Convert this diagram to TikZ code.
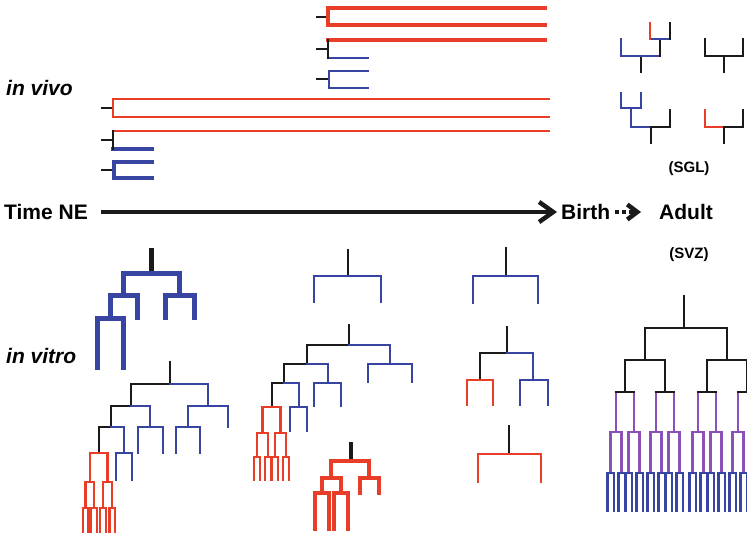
\documentclass[tikz,border=0pt]{standalone}
\usepackage{fontspec}
\setmainfont{Liberation Sans}
\usetikzlibrary{arrows.meta}

\definecolor{lblue}{RGB}{56,68,162}
\definecolor{lred}{RGB}{232,62,40}
\definecolor{lpurple}{RGB}{138,82,184}
\definecolor{lblack}{RGB}{26,26,26}

% one division: left end, split point, right end, level, end of the two branches,
% colour of the left branch, colour of the right branch
\newcommand{\lfork}[7]{%
  \draw[#6] (#2,#4) -- (#1,#4) -- (#1,#5);
  \draw[#7] (#2,#4) -- (#3,#4) -- (#3,#5);}
% the black stem of a lineage
\newcommand{\lstub}[3]{\draw[lblack] (#1,#2) -- (#1,#3);}

\begin{document}
\begin{tikzpicture}[x=1pt,y=-1pt,line join=miter,line cap=rect,
  every node/.style={inner sep=0pt},
  biglabel/.style={font=\fontsize{21}{24}\selectfont\bfseries},
  bigital/.style={font=\fontsize{21}{24}\selectfont\bfseries\itshape},
  smalllabel/.style={font=\fontsize{15}{18}\selectfont\bfseries}]
\useasboundingbox (0,0) rectangle (747,538);
\clip (0,0) rectangle (747,538);

% ---------- labels ----------
\node[bigital,anchor=west] (invivo) at (6,88) {in vivo};
\node[bigital,anchor=west] (invitro) at (6,356) {in vitro};
\node[biglabel,anchor=west] (timene) at (4,212) {Time NE};
\node[biglabel,anchor=west] (birth) at (561,212) {Birth};
\node[biglabel,anchor=west] (adult) at (659,212) {Adult};
\node[smalllabel] (sgl) at (689,169) {(SGL)};
\node[smalllabel] (svz) at (689,255) {(SVZ)};

% ---------- time axis ----------
\coordinate (ta) at (101,212);
\coordinate (tb) at (557,212);
\coordinate (da) at (615,212);
\coordinate (db) at (641,212);
\draw[lblack,line width=4.5,line cap=butt,-{Straight Barb[length=14pt,width=20pt]}] (ta) -- (tb);
\draw[lblack,line width=4.5,line cap=butt,dash pattern=on 4pt off 3pt,
  -{Straight Barb[length=10pt,width=15pt]}] (da) -- (db);

% ---------- in vivo clones ----------
\begin{scope}
\draw[lblack,line width=2] (317,17) -- (327,17);
\draw[lred,line width=4.5] (545,8) -- (328,8) -- (328,25) -- (545,25);

\draw[lblack,line width=2] (317,49) -- (327,49);
\draw[lred,line width=4.5] (328,40) -- (545,40);
\draw[lblue,line width=2.5] (328,58) -- (368,58);
\draw[lblack,line width=2.5] (328,40) -- (328,58);

\draw[lblack,line width=2] (317,79) -- (328,79);
\draw[lblue,line width=1.7] (368,71) -- (329,71) -- (329,88) -- (368,88);

\draw[lblack,line width=2] (102,108) -- (112,108);
\draw[lred,line width=1.7] (549,99) -- (113,99) -- (113,117) -- (549,117);
\draw[lred,line width=2.6] (113,99) -- (113,117);

\draw[lblack,line width=2] (102,140) -- (112,140);
\draw[lred,line width=2.6] (113,131) -- (549,131);
\draw[lblue,line width=4.5] (113,149) -- (152,149);
\draw[lblack,line width=2.2] (113,131) -- (113,149);

\draw[lblack,line width=2] (102,170) -- (112,170);
\draw[lblue,line width=4.5] (152,162) -- (114,162) -- (114,178) -- (152,178);
\end{scope}

% ---------- SGL clones ----------
\begin{scope}[line width=2.5]
\lstub{641}{72}{56}
\draw[lblue] (621,39) -- (621,56) -- (660,56);
\draw[lblack] (660,56) -- (660,39);
\draw[lblue] (650,39) -- (670,39);
\draw[lred] (650,39) -- (650,23);
\draw[lblack] (670,39) -- (670,23);

\lstub{724}{72}{56}
\lfork{705}{724}{743}{56}{39}{lblack}{lblack}

\lstub{651}{143}{127}
\lfork{631}{651}{670}{127}{110}{lblue}{lblack}
\lfork{621}{631}{641}{108}{93}{lblue}{lblue}
\draw[lblue] (631,127) -- (631,108);

\lstub{724}{143}{127}
\lfork{705}{724}{743}{127}{110}{lred}{lblack}
\end{scope}

% ---------- in vitro, first column ----------
\begin{scope}[line width=5]
\lstub{151}{250}{273}
\lfork{123}{151}{179}{273}{295}{lblue}{lblue}
\lfork{110}{123}{137}{295}{317}{lblue}{lblue}
\lfork{165.5}{179}{194}{295}{317}{lblue}{lblue}
\lfork{97}{110}{123}{318}{367}{lblue}{lblue}
\end{scope}

\begin{scope}[line width=2.8]
\lstub{170}{362}{384}
\lfork{131}{170}{208}{384}{406}{lblack}{lblue}
\lfork{188}{208}{228}{406}{427}{lblue}{lblue}
\lfork{176}{188}{200}{427}{453}{lblue}{lblue}
\lfork{111}{131}{150}{406}{427}{lblack}{lblue}
\lfork{138}{150}{163}{427}{453}{lblue}{lblue}
\lfork{99}{111}{124}{427}{453}{lblack}{lblue}
\lfork{116}{124}{132}{453}{480}{lblue}{lblue}
\end{scope}
\begin{scope}[line width=2.4]
\lfork{89.7}{99}{107.5}{453}{482}{lred}{lred}
\lfork{85.5}{89.7}{93.8}{482}{508}{lred}{lred}
\lfork{102.8}{107.5}{112.2}{482}{508}{lred}{lred}
\lfork{82.7}{85.5}{88.3}{508}{532}{lred}{lred}
\lfork{91}{93.8}{96.7}{508}{532}{lred}{lred}
\lfork{100}{102.8}{105.7}{508}{532}{lred}{lred}
\lfork{109.3}{112.2}{115}{508}{532}{lred}{lred}
\end{scope}

% ---------- in vitro, second column ----------
\begin{scope}[line width=2.5]
\lstub{348}{250}{276}
\lfork{314}{348}{381}{276}{302}{lblue}{lblue}

\lstub{349}{325}{345}
\lfork{307}{349}{390}{345}{364}{lblack}{lblue}
\lfork{368}{390}{412}{364}{382}{lblue}{lblue}
\lfork{284}{307}{328}{364}{383}{lblack}{lblue}
\lfork{314}{328}{341}{383}{406}{lblue}{lblue}
\lfork{272}{284}{299}{383}{407}{lblack}{lblue}
\lfork{290}{299}{307}{407}{431}{lblue}{lblue}
\lfork{262.5}{272}{280.5}{407}{433}{lred}{lred}
\lfork{257}{262.5}{268}{433}{457}{lred}{lred}
\lfork{275}{280.5}{286}{433}{457}{lred}{lred}
\lfork{254}{257}{260}{457}{480}{lred}{lred}
\lfork{265}{268}{271}{457}{480}{lred}{lred}
\lfork{272}{275}{278}{457}{480}{lred}{lred}
\lfork{283}{286}{289}{457}{480}{lred}{lred}
\end{scope}

\begin{scope}[line width=3.1]
\lstub{351}{444}{461}
\lfork{331}{351}{369}{461}{478}{lred}{lred}
\lfork{360}{369}{379}{478}{493}{lred}{lred}
\lfork{322}{331}{341}{478}{493}{lred}{lred}
\lfork{315}{322}{329}{493}{529}{lred}{lred}
\lfork{334}{341}{348}{493}{529}{lred}{lred}
\end{scope}

% ---------- in vitro, third column ----------
\begin{scope}[line width=2.9]
\lstub{506}{248}{276}
\lfork{473}{506}{538}{276}{303}{lblue}{lblue}

\lstub{507}{327}{353}
\lfork{480}{507}{533}{353}{380}{lblack}{lblue}
\lfork{520}{533}{548}{380}{405}{lblue}{lblue}
\lfork{467}{480}{493}{380}{405}{lred}{lred}

\lstub{509}{426}{454}
\lfork{478}{509}{541}{454}{482}{lred}{lred}
\end{scope}

% ---------- SVZ clone ----------
\begin{scope}[line width=2.8]
\lstub{684}{296}{328}
\lfork{645}{684}{727}{328}{360}{lblack}{lblack}
\lfork{625}{645}{665}{360}{392}{lblack}{lblack}
\lfork{707}{727}{747}{360}{392}{lblack}{lblack}
\foreach \a in {625,665,707,747}{%
  \lfork{\a-9}{\a}{\a+9}{392}{432}{lpurple}{lpurple}
  \draw[lblack] (\a-9,392) -- (\a+9,392);}
\foreach \a in {616,634,656,674,698,716,738,756}{%
  \lfork{\a-5.5}{\a}{\a+5.5}{432}{473}{lpurple}{lpurple}}
\end{scope}
\begin{scope}[line width=2.4]
\foreach \a in {610.5,621.5,628.5,639.5,650.5,661.5,668.5,679.5,
                692.5,703.5,710.5,721.5,732.5,743.5,750.5,761.5}{%
  \lfork{\a-3.2}{\a}{\a+3.2}{473}{511}{lblue}{lblue}}
\end{scope}
\end{tikzpicture}
\end{document}
